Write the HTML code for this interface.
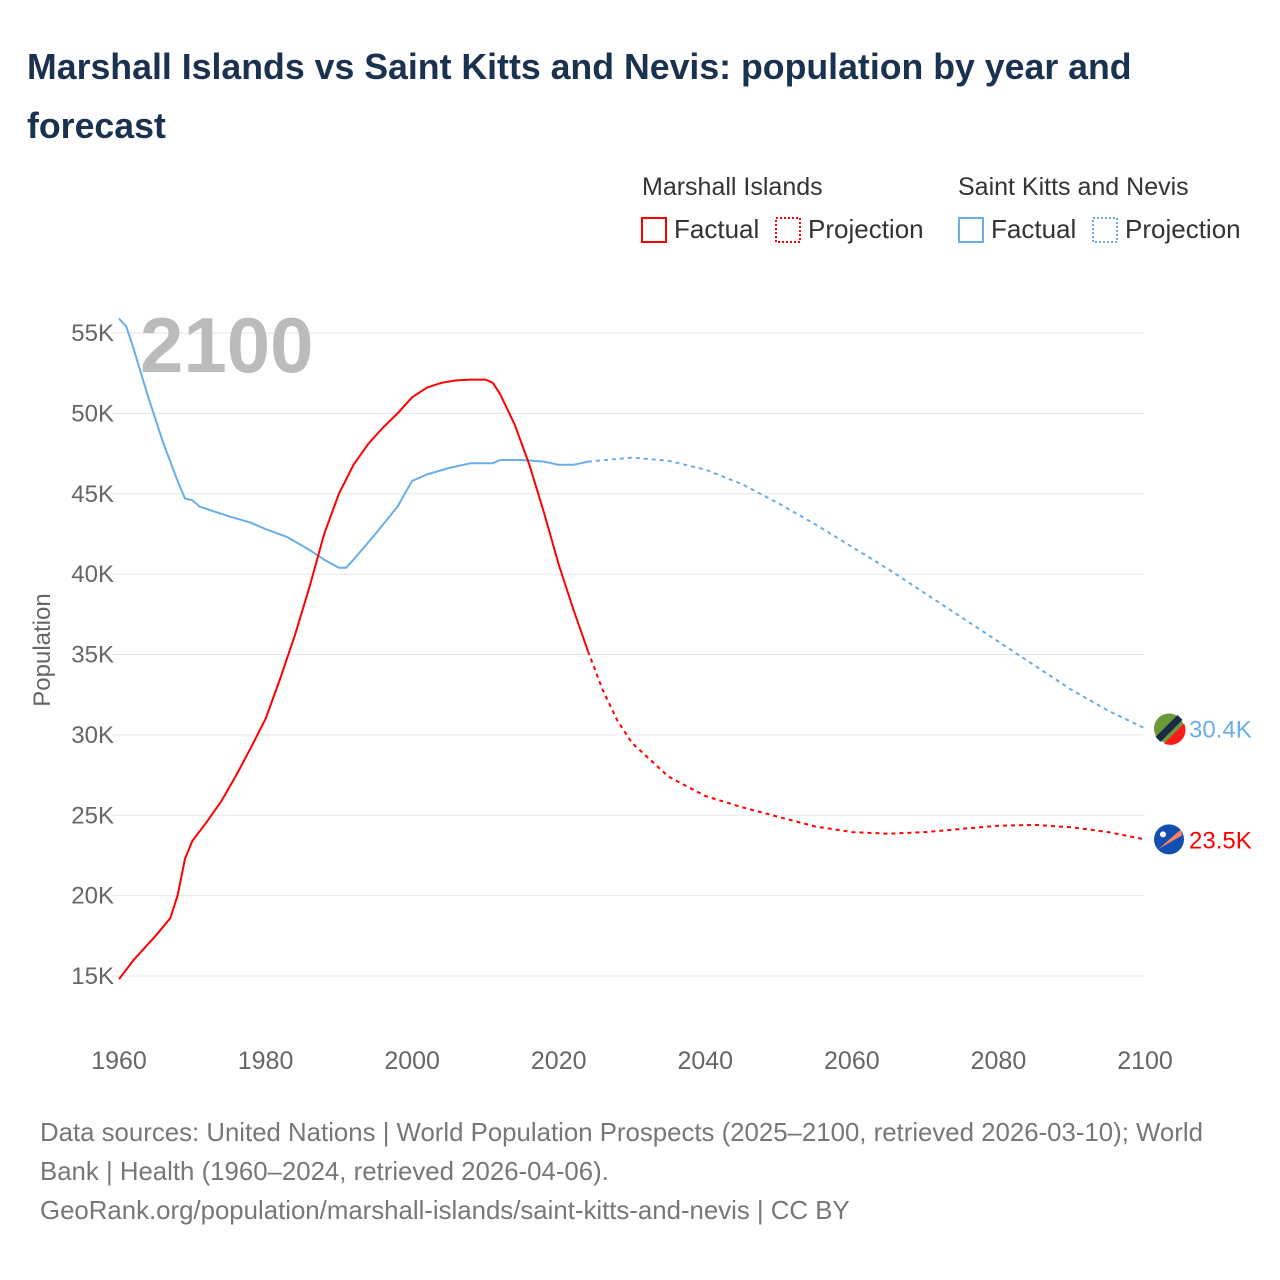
<!DOCTYPE html>
<html><head><meta charset="utf-8">
<style>
body{margin:0;background:#fff;font-family:"Liberation Sans",sans-serif;}
.wrap{position:relative;width:1280px;height:1280px;overflow:hidden;}
h1{position:absolute;left:27px;top:38px;margin:0;font-size:35.7px;line-height:59px;color:#1b3150;font-weight:bold;width:1200px;}
</style></head><body>
<div class="wrap">
<h1>Marshall Islands vs Saint Kitts and Nevis: population by year and forecast</h1>
<svg id="chart" width="1280" height="1280" style="position:absolute;left:0;top:0"></svg>
</div>
<script>
const xTicks=[1960,1980,2000,2020,2040,2060,2080,2100];
const yTicks=[15000,20000,25000,30000,35000,40000,45000,50000,55000];
const yTickLabels=["15K","20K","25K","30K","35K","40K","45K","50K","55K"];
const miYears=[1960,1962,1965,1967,1968,1969,1970,1972,1974,1976,1978,1980,1982,1984,1986,1988,1990,1992,1994,1996,1998,2000,2002,2004,2006,2008,2010,2011,2012,2014,2016,2018,2020,2022,2024];
const miVals=[14800,16000,17500,18600,20000,22300,23400,24600,25900,27500,29200,31000,33500,36200,39200,42500,45000,46800,48100,49100,50000,51000,51600,51900,52050,52100,52100,51900,51200,49300,46800,43800,40600,37800,35200];
const miProjYears=[2024,2026,2028,2030,2035,2040,2045,2050,2055,2060,2065,2070,2075,2080,2085,2090,2095,2100];
const miProjVals=[35200,32800,30900,29500,27400,26200,25500,24900,24300,23950,23850,23950,24150,24350,24400,24250,23950,23500];
const sknYears=[1960,1961,1962,1963,1964,1966,1968,1969,1970,1971,1975,1978,1980,1983,1986,1988,1990,1991,1992,1995,1998,2000,2002,2005,2008,2010,2011,2012,2015,2018,2020,2022,2024];
const sknVals=[55900,55400,54000,52500,51000,48200,45800,44700,44600,44200,43600,43200,42800,42300,41500,40900,40400,40400,40900,42500,44200,45800,46200,46600,46900,46900,46900,47100,47100,47000,46800,46800,47000];
const sknProjYears=[2024,2030,2035,2040,2045,2050,2055,2060,2065,2070,2075,2080,2085,2090,2095,2100];
const sknProjVals=[47000,47250,47050,46500,45600,44400,43100,41700,40300,38800,37300,35800,34300,32800,31500,30400];
const NS="http://www.w3.org/2000/svg";
const svg=document.getElementById('chart');
const X=y=>119+(y-1960)*(1026/140);
const Y=v=>976-(v-15000)*0.016075;
function el(t,a,txt){const e=document.createElementNS(NS,t);for(const k in a)e.setAttribute(k,a[k]);if(txt!==undefined)e.textContent=txt;svg.appendChild(e);return e;}
yTicks.forEach((v,i)=>{
 const g=el('line',{x1:112,x2:1145,y1:Y(v),y2:Y(v),stroke:'#e6e6e6','stroke-width':1});
 
 
 const t=el('text',{x:114,y:Y(v)+8,'text-anchor':'end','font-size':24,fill:'#666'},yTickLabels[i]);
 
 
});
xTicks.forEach(y=>{
 const t=el('text',{x:X(y),y:1069,'text-anchor':'middle','font-size':25,fill:'#666'},y);
 
 
});
const yt=el('text',{x:0,y:0,transform:'translate(50,650) rotate(-90)','text-anchor':'middle','font-size':24,fill:'#666'},'Population');


const yr=el('text',{x:140,y:372,'font-size':78,'font-weight':'bold',fill:'#bbb'},'2100');


function line(xs,vs,col,dash,name){
 const d=xs.map((y,i)=>(i?'L':'M')+X(y).toFixed(1)+','+Y(vs[i]).toFixed(1)).join('');
 const p=el('path',{d:d,fill:'none',stroke:col,'stroke-width':2,'stroke-linejoin':'round'});
 if(dash)p.setAttribute('stroke-dasharray','4,4');
 
 
}
line(sknYears,sknVals,'#6aaee8',false,'skn-factual-line');
line(sknProjYears,sknProjVals,'#6aaee8',true,'skn-projection-line');
line(miYears,miVals,'#ff0000',false,'mi-factual-line');
line(miProjYears,miProjVals,'#ff0000',true,'mi-projection-line');
const sx=X(2100),sy=Y(sknProjVals[sknProjVals.length-1]),my=Y(miProjVals[miProjVals.length-1]);
const f1=el('circle',{cx:sx+24,cy:sy,r:15,fill:'#6a9a3a'});


el('path',{d:`M${sx+24+15},${sy-5} A15,15 0 0 1 ${sx+24-5},${sy+15} Z`,fill:'#ff1a1a'});
el('line',{x1:sx+13,y1:sy+11,x2:sx+35,y2:sy-11,stroke:'#1a2a44','stroke-width':7});
const l1=el('text',{x:sx+44,y:sy+9,'font-size':24,fill:'#6aaee8'},(sknProjVals[sknProjVals.length-1]/1000).toFixed(1)+'K');


const f2=el('circle',{cx:sx+24,cy:my,r:15,fill:'#1150b0'});


el('path',{d:`M${sx+13},${my+10} L${sx+36},${my-10} L${sx+37},${my-4} Z`,fill:'#ff8060'});
el('circle',{cx:sx+18,cy:my-5,r:3,fill:'#fff'});
const l2=el('text',{x:sx+44,y:my+9,'font-size':24,fill:'#ff0000'},(miProjVals[miProjVals.length-1]/1000).toFixed(1)+'K');


function leg(x,y,col,dash,label,name){
 const r=el('rect',{x:x,y:y-11,width:24,height:24,fill:'none',stroke:col,'stroke-width':2});
 if(dash)r.setAttribute('stroke-dasharray','2,2');
 
 
 el('text',{x:x+32,y:y+9,'font-size':26,fill:'#333'},label);
}
el('text',{x:642,y:195,'font-size':25,fill:'#333'},'Marshall Islands');
el('text',{x:958,y:195,'font-size':25,fill:'#333'},'Saint Kitts and Nevis');
leg(642,229,'#ff0000',false,'Factual','legend-mi-factual');
leg(776,229,'#ff0000',true,'Projection','legend-mi-projection');
leg(959,229,'#6aaee8',false,'Factual','legend-skn-factual');
leg(1093,229,'#6aaee8',true,'Projection','legend-skn-projection');
['Data sources: United Nations | World Population Prospects (2025–2100, retrieved 2026-03-10); World','Bank | Health (1960–2024, retrieved 2026-04-06).','GeoRank.org/population/marshall-islands/saint-kitts-and-nevis | CC BY'].forEach((s,i)=>{
 const t=el('text',{x:40,y:1141+i*39,'font-size':25.8,fill:'#777'},s);
 
 
});
</script>
</body></html>
